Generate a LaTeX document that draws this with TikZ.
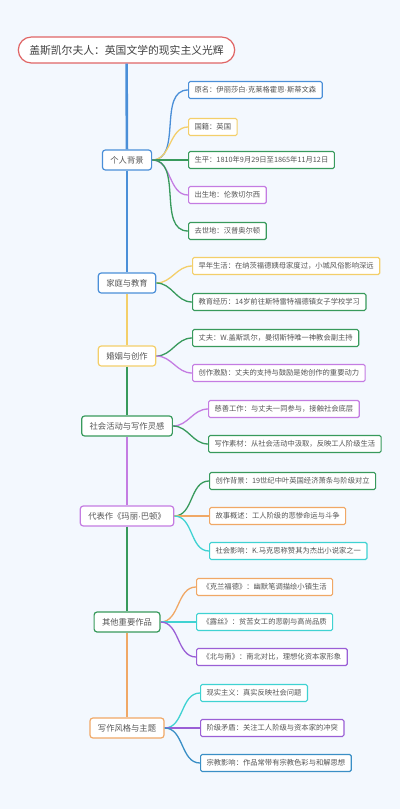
\documentclass[tikz,border=0pt]{standalone}
\usepackage{fontspec}
\setmainfont{Noto Sans CJK SC}
\newfontfamily\latinfont{Liberation Sans}
\newcommand{\ndot}{{\latinfont\char"00B7}}
\definecolor{bgblue}{HTML}{F3F8FE}
\definecolor{txtgray}{HTML}{555555}
\definecolor{cred}{HTML}{E06666}
\definecolor{cblue}{HTML}{4A8FD8}
\definecolor{cyellow}{HTML}{F3CF6A}
\definecolor{cgreen}{HTML}{389A5C}
\definecolor{cpurple}{HTML}{C47CE2}
\definecolor{cviolet}{HTML}{9A5FD6}
\definecolor{corange}{HTML}{F0A866}
\definecolor{ccyan}{HTML}{3FD2D2}
\definecolor{cteal}{HTML}{3A8FC6}
\tikzset{
  titlebox/.style={draw=cred,line width=1.2pt,fill=white,rounded corners=13pt,
    minimum height=26pt,inner xsep=11pt,text=black!75,font=\fontsize{10.8}{12}\selectfont},
  branchbox/.style={line width=1.2pt,fill=white,rounded corners=3pt,
    minimum height=20pt,inner xsep=8pt,font=\fontsize{8.3}{9}\selectfont},
  leafbox/.style={line width=1.1pt,fill=white,rounded corners=1.5pt,anchor=west,
    minimum height=17pt,inner xsep=6pt,font=\fontsize{7.3}{8}\selectfont},
  trunk/.style={line width=2.6pt},
  twig/.style={line width=1.3pt,out=0,in=180},
}
\begin{document}
\begin{tikzpicture}[x=1pt,y=-1pt,every node/.style={text=txtgray}]
\fill[bgblue] (0,0) rectangle (400,809);
\useasboundingbox (0,0) rectangle (400,809);
% title and main branches
\node[titlebox] (root) at (126.5,50) {盖斯凯尔夫人：英国文学的现实主义光辉};
\node[branchbox,draw=cblue] (life) at (127,160) {个人背景};
\node[branchbox,draw=cblue] (home) at (127,283) {家庭与教育};
\node[branchbox,draw=cyellow] (marry) at (127,356) {婚姻与创作};
\node[branchbox,draw=cgreen] (social) at (127,426) {社会活动与写作灵感};
\node[branchbox,draw=cpurple] (barton) at (127,516) {代表作《玛丽\ndot 巴顿》};
\node[branchbox,draw=cgreen] (works) at (127,622) {其他重要作品};
\node[branchbox,draw=corange] (style) at (127,728) {写作风格与主题};
% trunk
\draw[trunk,cblue] (root) -- (life);
\draw[trunk,cblue] (life) -- (home);
\draw[trunk,cyellow] (home) -- (marry);
\draw[trunk,cgreen] (marry) -- (social);
\draw[trunk,cpurple] (social) -- (barton);
\draw[trunk,cgreen] (barton) -- (works);
\draw[trunk,corange] (works) -- (style);
% personal background
\node[leafbox,draw=cblue] (life1) at (188,90) {原名：伊丽莎白\ndot 克莱格霍恩\ndot 斯蒂文森};
\node[leafbox,draw=cyellow] (life2) at (188,127) {国籍：英国};
\node[leafbox,draw=cgreen] (life3) at (188,160) {生平：1810年9月29日至1865年11月12日};
\node[leafbox,draw=cpurple] (life4) at (188,195) {出生地：伦敦切尔西};
\node[leafbox,draw=cgreen] (life5) at (188,231) {去世地：汉普奥尔顿};
\draw[twig,cblue] (life.east) to (life1.west);
\draw[twig,cyellow] (life.east) to (life2.west);
\draw[twig,cgreen] (life.east) to (life3.west);
\draw[twig,cpurple] (life.east) to (life4.west);
\draw[twig,cgreen] (life.east) to (life5.west);
% family and education
\node[leafbox,draw=cyellow] (home1) at (192,266) {早年生活：在纳茨福德姨母家度过，小城风俗影响深远};
\node[leafbox,draw=cgreen] (home2) at (192,302) {教育经历：14岁前往斯特雷特福德镇女子学校学习};
\draw[twig,cyellow] (home.east) to (home1.west);
\draw[twig,cgreen] (home.east) to (home2.west);
% marriage
\node[leafbox,draw=cgreen] (marry1) at (192,338) {丈夫：W.盖斯凯尔，曼彻斯特唯一神教会副主持};
\node[leafbox,draw=cpurple] (marry2) at (192,373) {创作激励：丈夫的支持与鼓励是她创作的重要动力};
\draw[twig,cgreen] (marry.east) to (marry1.west);
\draw[twig,cpurple] (marry.east) to (marry2.west);
% social activity
\node[leafbox,draw=cpurple] (social1) at (208,409) {慈善工作：与丈夫一同参与，接触社会底层};
\node[leafbox,draw=cgreen] (social2) at (208,444) {写作素材：从社会活动中汲取，反映工人阶级生活};
\draw[twig,cpurple] (social.east) to (social1.west);
\draw[twig,cgreen] (social.east) to (social2.west);
% Mary Barton
\node[leafbox,draw=cgreen] (barton1) at (209,481) {创作背景：19世纪中叶英国经济萧条与阶级对立};
\node[leafbox,draw=corange] (barton2) at (209,516) {故事概述：工人阶级的悲惨命运与斗争};
\node[leafbox,draw=ccyan] (barton3) at (209,551) {社会影响：K.马克思称赞其为杰出小说家之一};
\draw[twig,cgreen] (barton.east) to (barton1.west);
\draw[twig,corange] (barton.east) to (barton2.west);
\draw[twig,ccyan] (barton.east) to (barton3.west);
% other works
\node[leafbox,draw=corange] (works1) at (196,587) {《克兰福德》：幽默笔调描绘小镇生活};
\node[leafbox,draw=ccyan] (works2) at (196,622) {《露丝》：贫苦女工的悲剧与高尚品质};
\node[leafbox,draw=cviolet] (works3) at (196,657) {《北与南》：南北对比，理想化资本家形象};
\draw[twig,corange] (works.east) to (works1.west);
\draw[twig,ccyan] (works.east) to (works2.west);
\draw[twig,cviolet] (works.east) to (works3.west);
% style and themes
\node[leafbox,draw=ccyan] (style1) at (200,693) {现实主义：真实反映社会问题};
\node[leafbox,draw=cviolet] (style2) at (200,728) {阶级矛盾：关注工人阶级与资本家的冲突};
\node[leafbox,draw=cteal] (style3) at (200,763) {宗教影响：作品常带有宗教色彩与和解思想};
\draw[twig,ccyan] (style.east) to (style1.west);
\draw[twig,cviolet] (style.east) to (style2.west);
\draw[twig,cteal] (style.east) to (style3.west);
\end{tikzpicture}
\end{document}
